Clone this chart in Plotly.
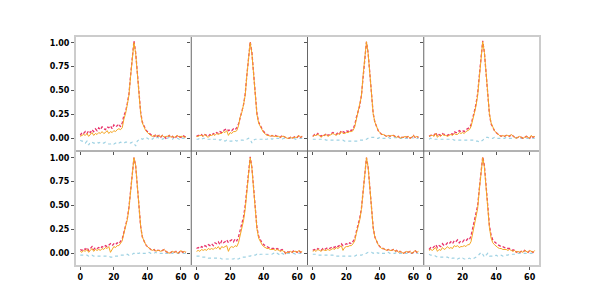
import plotly.graph_objects as go
from plotly.subplots import make_subplots

x_vals = list(range(64))

red_1 = [0.03,0.06,0.05,0.07,0.05,0.08,0.06,0.09,0.07,0.10,
         0.08,0.11,0.09,0.12,0.10,0.09,0.12,0.11,0.13,0.10,
         0.14,0.12,0.13,0.15,0.12,0.16,
         0.24,0.28,0.36,0.46,0.66,0.86,1.02,0.90,0.69,0.46,0.27,0.17,0.12,0.09,0.07,0.05,0.04,
         0.03,0.02,0.04,0.02,0.03,0.01,0.03,0.02,0.00,0.02,0.03,0.01,0.02,0.00,0.01,0.03,0.02,0.01,0.03,0.02,0.01]
orange_1 = [0.02,0.03,0.04,0.03,0.05,0.02,0.04,0.06,0.03,0.05,
            0.04,0.06,0.05,0.07,0.05,0.06,0.08,0.05,0.07,0.06,
            0.08,0.07,0.09,0.10,0.09,0.11,
            0.20,0.26,0.35,0.45,0.65,0.85,1.00,0.89,0.68,0.45,0.26,0.16,0.11,0.08,0.06,0.04,0.03,
            0.02,0.03,0.02,0.03,0.02,0.02,0.03,0.01,0.02,0.02,0.03,0.01,0.02,0.01,0.02,0.03,0.01,0.02,0.02,0.01,0.02]
blue_1 = [-0.02,-0.03,-0.03,-0.05,-0.03,-0.07,-0.04,-0.04,-0.05,-0.05,
          -0.04,-0.05,-0.04,-0.05,-0.05,-0.04,-0.05,-0.06,-0.06,-0.05,
          -0.06,-0.05,-0.04,-0.05,-0.04,-0.05,
          -0.05,-0.04,-0.04,-0.04,-0.05,-0.04,-0.05,-0.08,-0.03,-0.01,0.00,-0.01,0.00,0.01,0.00,-0.01,0.00,
          -0.01,0.01,0.00,0.01,0.00,0.00,-0.01,0.00,0.01,0.00,0.01,0.00,-0.01,0.01,0.00,0.00,-0.01,0.01,0.00,0.00,0.01]

red_2 = [0.02,0.03,0.03,0.04,0.02,0.04,0.03,0.02,0.04,0.03,
         0.05,0.04,0.06,0.05,0.07,0.06,0.08,0.09,0.10,0.08,
         0.09,0.08,0.10,0.09,0.11,0.15,
         0.23,0.28,0.35,0.46,0.66,0.86,1.01,0.90,0.68,0.45,0.26,0.17,0.13,0.10,0.07,0.05,0.04,
         0.03,0.02,0.03,0.02,0.03,0.02,0.02,0.01,0.03,0.02,0.01,0.00,0.00,0.01,0.00,0.01,0.02,0.01,0.03,0.01,0.02]
orange_2 = [0.02,0.02,0.03,0.03,0.02,0.04,0.02,0.01,0.03,0.03,
            0.04,0.03,0.05,0.04,0.05,0.05,0.07,0.06,0.08,0.03,
            0.06,0.05,0.07,0.07,0.08,0.13,
            0.22,0.27,0.35,0.45,0.66,0.85,1.00,0.89,0.67,0.44,0.25,0.16,0.12,0.09,0.06,0.04,0.03,
            0.03,0.02,0.03,0.02,0.02,0.02,0.02,0.01,0.02,0.02,0.01,0.00,0.00,0.01,0.00,0.01,0.01,0.01,0.03,0.01,0.02]
blue_2 = [-0.01,-0.01,0.00,-0.01,0.00,0.00,-0.01,-0.01,-0.01,0.00,
          -0.01,-0.01,-0.01,-0.01,-0.02,-0.01,-0.02,-0.03,-0.02,-0.03,
          -0.03,-0.03,-0.02,-0.02,-0.03,-0.02,
          -0.02,-0.02,-0.02,-0.01,-0.01,0.00,-0.01,-0.05,-0.02,-0.01,-0.01,-0.01,-0.01,-0.01,0.00,-0.01,-0.01,
          0.00,0.00,-0.01,0.00,0.00,0.00,0.00,0.00,-0.01,0.00,0.00,0.00,0.00,0.00,0.00,0.00,-0.01,0.00,0.00,0.00,0.00]

red_3 = [0.02,0.04,0.03,0.05,0.03,0.02,0.04,0.03,0.05,0.03,
         0.04,0.05,0.06,0.05,0.04,0.06,0.05,0.08,0.07,0.06,
         0.08,0.07,0.09,0.08,0.10,0.14,
         0.22,0.27,0.34,0.45,0.66,0.86,1.01,0.89,0.68,0.45,0.26,0.17,0.12,0.08,0.06,0.04,0.04,
         0.03,0.02,0.03,0.02,0.03,0.03,0.02,0.01,0.02,0.00,0.01,0.01,0.02,0.01,0.02,0.00,0.01,0.03,0.01,0.02,0.01]
orange_3 = [0.02,0.03,0.03,0.04,0.03,0.01,0.03,0.03,0.04,0.02,
            0.03,0.04,0.05,0.04,0.03,0.05,0.04,0.07,0.05,0.05,
            0.06,0.06,0.07,0.07,0.08,0.12,
            0.20,0.25,0.33,0.44,0.66,0.86,1.01,0.89,0.68,0.45,0.26,0.17,0.12,0.08,0.06,0.04,0.04,
            0.03,0.02,0.03,0.02,0.03,0.03,0.02,0.01,0.02,0.00,0.01,0.01,0.02,0.01,0.02,0.00,0.01,0.03,0.01,0.02,0.01]
blue_3 = [-0.01,-0.01,-0.01,-0.01,-0.01,-0.01,-0.01,-0.01,-0.02,-0.02,
          -0.02,-0.02,-0.02,-0.02,-0.02,-0.02,-0.02,-0.02,-0.02,-0.03,
          -0.03,-0.03,-0.03,-0.03,-0.03,-0.03,
          -0.03,-0.03,-0.02,-0.02,-0.02,-0.02,-0.01,0.00,0.01,0.01,0.01,0.01,0.00,0.00,0.01,0.00,0.00,
          0.00,0.00,0.01,0.00,0.00,0.00,0.01,0.00,0.00,0.00,0.00,0.01,0.00,0.00,0.00,0.00,0.01,0.00,0.00,0.00,0.00]

red_4 = [0.02,0.03,0.04,0.03,0.06,0.02,0.04,0.03,0.05,0.04,
         0.04,0.03,0.04,0.05,0.04,0.07,0.06,0.06,0.08,0.07,
         0.08,0.07,0.09,0.10,0.11,0.14,
         0.23,0.28,0.36,0.47,0.66,0.86,1.02,0.90,0.68,0.44,0.25,0.15,0.11,0.08,0.06,0.04,0.03,
         0.02,0.03,0.02,0.03,0.03,0.02,0.04,0.02,0.01,0.00,0.01,0.02,0.01,0.00,0.01,0.02,0.01,0.00,0.03,0.01,0.02]
orange_4 = [0.02,0.03,0.03,0.02,0.05,0.01,0.03,0.02,0.04,0.03,
            0.03,0.02,0.03,0.04,0.03,0.05,0.04,0.04,0.06,0.05,
            0.06,0.05,0.07,0.08,0.09,0.12,
            0.21,0.26,0.34,0.45,0.64,0.85,1.01,0.90,0.68,0.45,0.26,0.16,0.11,0.08,0.06,0.04,0.03,
            0.02,0.03,0.02,0.03,0.03,0.02,0.04,0.02,0.01,0.00,0.01,0.02,0.01,0.00,0.01,0.02,0.01,0.00,0.03,0.01,0.02]
blue_4 = [-0.01,0.00,-0.01,-0.01,-0.01,-0.01,-0.01,-0.01,-0.01,-0.01,
          -0.01,-0.01,-0.01,-0.01,-0.01,-0.02,-0.02,-0.02,-0.02,-0.02,
          -0.02,-0.02,-0.02,-0.02,-0.02,-0.02,
          -0.02,-0.02,-0.03,-0.03,-0.04,-0.03,-0.02,0.00,0.01,0.01,0.00,0.00,0.00,0.01,0.00,0.00,0.00,
          0.00,0.00,0.00,0.01,0.00,0.00,0.00,0.00,0.00,0.01,0.00,0.00,0.00,0.00,0.00,0.00,0.00,0.00,0.00,0.00,0.00]

red_5 = [0.04,0.03,0.05,0.04,0.06,0.03,0.05,0.07,0.04,0.06,
         0.05,0.06,0.05,0.07,0.06,0.08,0.07,0.09,0.10,0.08,
         0.10,0.09,0.11,0.10,0.12,0.15,
         0.22,0.28,0.36,0.48,0.68,0.88,1.00,0.92,0.70,0.47,0.28,0.17,0.12,0.09,0.07,0.05,0.04,
         0.03,0.04,0.02,0.03,0.03,0.02,0.03,0.04,0.02,0.01,0.00,0.01,0.02,0.01,0.02,0.00,0.01,0.03,0.01,0.02,0.01]
orange_5 = [0.02,0.01,0.03,0.02,0.04,0.01,0.03,0.05,0.02,0.04,
            0.03,0.04,0.03,0.05,0.04,0.06,0.05,0.07,0.01,0.04,
            0.07,0.06,0.08,0.08,0.10,0.13,
            0.21,0.27,0.35,0.47,0.67,0.88,1.00,0.92,0.70,0.47,0.28,0.17,0.12,0.09,0.07,0.05,0.04,
            0.03,0.04,0.02,0.03,0.03,0.02,0.03,0.04,0.02,0.01,0.00,0.01,0.02,0.01,0.02,0.00,0.01,0.03,0.01,0.02,0.01]
blue_5 = [-0.02,-0.02,-0.02,-0.02,-0.02,-0.03,-0.02,-0.02,-0.03,-0.03,
          -0.03,-0.03,-0.03,-0.03,-0.03,-0.03,-0.03,-0.03,-0.04,-0.04,
          -0.04,-0.03,-0.03,-0.03,-0.02,-0.02,
          -0.02,-0.02,-0.01,-0.02,-0.01,-0.01,0.00,-0.01,0.00,0.00,0.01,0.00,0.00,0.00,0.00,0.01,0.00,
          0.00,0.00,0.01,0.00,0.00,0.00,0.00,0.01,0.00,0.00,0.00,0.00,0.00,0.01,0.00,0.00,0.00,0.00,0.00,0.00,0.00]

red_6 = [0.05,0.06,0.05,0.07,0.06,0.08,0.07,0.09,0.08,0.10,
         0.08,0.11,0.10,0.12,0.09,0.13,0.11,0.12,0.14,0.11,
         0.13,0.14,0.12,0.15,0.13,0.17,
         0.24,0.30,0.38,0.50,0.70,0.88,1.01,0.90,0.70,0.47,0.27,0.18,0.14,0.11,0.09,0.08,0.07,
         0.06,0.06,0.05,0.05,0.04,0.05,0.04,0.03,0.04,0.03,0.00,0.02,0.01,0.02,0.01,0.03,0.02,0.01,0.03,0.01,0.02]
orange_6 = [0.02,0.03,0.02,0.04,0.03,0.04,0.03,0.05,0.04,0.05,
            0.04,0.06,0.05,0.07,0.04,0.07,0.06,0.07,0.08,0.02,
            0.06,0.07,0.06,0.08,0.07,0.11,
            0.19,0.26,0.34,0.46,0.67,0.86,1.00,0.89,0.69,0.46,0.26,0.16,0.12,0.09,0.07,0.06,0.05,
            0.05,0.04,0.04,0.04,0.03,0.04,0.03,0.02,0.03,0.02,0.00,0.01,0.01,0.02,0.01,0.02,0.02,0.01,0.03,0.01,0.02]
blue_6 = [-0.03,-0.03,-0.03,-0.04,-0.04,-0.04,-0.04,-0.05,-0.05,-0.05,
          -0.05,-0.05,-0.05,-0.05,-0.05,-0.06,-0.06,-0.06,-0.06,-0.06,
          -0.06,-0.06,-0.06,-0.05,-0.06,-0.06,
          -0.05,-0.04,-0.04,-0.04,-0.03,-0.03,-0.03,-0.02,-0.02,-0.02,-0.01,-0.02,-0.01,-0.01,-0.01,-0.01,-0.01,
          -0.01,-0.01,-0.01,0.00,-0.01,0.00,-0.01,-0.02,0.00,-0.01,0.00,0.00,0.00,0.00,0.00,0.00,-0.01,0.00,0.00,0.00,0.00]

red_7 = [0.03,0.04,0.03,0.05,0.04,0.03,0.05,0.04,0.05,0.06,
         0.05,0.06,0.07,0.06,0.08,0.07,0.09,0.10,0.08,0.09,
         0.10,0.09,0.11,0.10,0.12,0.15,
         0.23,0.29,0.37,0.47,0.66,0.87,1.00,0.90,0.70,0.47,0.27,0.17,0.12,0.09,0.07,0.05,0.05,
         0.04,0.03,0.04,0.03,0.03,0.04,0.02,0.03,0.01,0.02,0.01,0.00,0.01,0.02,0.01,0.02,0.00,0.01,0.03,0.01,0.02]
orange_7 = [0.02,0.03,0.02,0.04,0.03,0.02,0.04,0.03,0.03,0.04,
            0.03,0.04,0.05,0.04,0.06,0.05,0.07,0.08,0.03,0.06,
            0.07,0.07,0.08,0.08,0.10,0.13,
            0.21,0.27,0.35,0.46,0.66,0.87,1.00,0.90,0.70,0.47,0.27,0.17,0.12,0.09,0.07,0.05,0.05,
            0.04,0.03,0.04,0.03,0.03,0.04,0.02,0.03,0.01,0.02,0.01,0.00,0.01,0.02,0.01,0.02,0.00,0.01,0.03,0.01,0.02]
blue_7 = [-0.01,-0.01,-0.01,-0.02,-0.02,-0.02,-0.02,-0.02,-0.02,-0.02,
          -0.02,-0.02,-0.02,-0.03,-0.03,-0.03,-0.03,-0.03,-0.03,-0.03,
          -0.03,-0.03,-0.03,-0.03,-0.03,-0.03,
          -0.02,-0.02,-0.02,-0.02,-0.01,-0.01,0.00,0.01,0.01,0.01,0.00,0.01,0.01,0.00,0.01,0.00,0.00,
          0.00,0.00,0.01,0.00,0.00,0.00,0.00,0.01,0.00,0.00,0.00,0.00,0.00,0.00,0.01,0.00,0.00,0.00,0.00,0.00,0.00]

red_8 = [0.04,0.06,0.05,0.07,0.09,0.06,0.08,0.07,0.10,0.08,
         0.09,0.11,0.10,0.12,0.10,0.13,0.12,0.14,0.11,0.13,
         0.12,0.14,0.13,0.15,0.14,0.18,
         0.26,0.32,0.40,0.50,0.68,0.88,1.01,0.92,0.72,0.48,0.29,0.19,0.14,0.12,0.10,0.09,0.08,
         0.07,0.07,0.06,0.06,0.05,0.05,0.04,0.03,0.04,0.01,0.02,0.01,0.02,0.01,0.03,0.02,0.01,0.03,0.02,0.01,0.03]
orange_8 = [0.03,0.04,0.03,0.05,0.06,0.02,0.04,0.03,0.06,0.04,
            0.05,0.07,0.05,0.06,0.05,0.08,0.07,0.08,0.06,0.07,
            0.07,0.08,0.07,0.09,0.09,0.12,
            0.21,0.27,0.36,0.47,0.67,0.86,1.00,0.90,0.70,0.46,0.27,0.16,0.11,0.09,0.07,0.06,0.05,
            0.05,0.04,0.04,0.04,0.03,0.04,0.03,0.02,0.03,0.01,0.02,0.01,0.02,0.01,0.03,0.02,0.01,0.03,0.02,0.01,0.03]
blue_8 = [-0.01,-0.02,-0.02,-0.02,-0.03,-0.04,-0.04,-0.04,-0.04,-0.04,
          -0.04,-0.04,-0.05,-0.06,-0.05,-0.05,-0.05,-0.06,-0.05,-0.06,
          -0.05,-0.06,-0.06,-0.06,-0.05,-0.06,
          -0.06,-0.05,-0.04,-0.03,-0.01,0.01,-0.01,-0.04,-0.02,0.00,-0.03,-0.03,-0.03,-0.03,-0.02,-0.03,-0.03,
          -0.02,-0.03,-0.02,-0.02,-0.02,-0.01,-0.01,-0.01,-0.01,0.00,0.00,0.00,0.00,0.00,0.00,0.00,0.00,0.00,0.00,0.00,0.00]

red_series = [red_1, red_2, red_3, red_4, red_5, red_6, red_7, red_8]
orange_series = [orange_1, orange_2, orange_3, orange_4, orange_5, orange_6, orange_7, orange_8]
blue_series = [blue_1, blue_2, blue_3, blue_4, blue_5, blue_6, blue_7, blue_8]

x_ticks = [0, 20, 40, 60]
y_ticks = [0.0, 0.25, 0.5, 0.75, 1.0]
y_tick_labels = ["0.00", "0.25", "0.50", "0.75", "1.00"]

RED = "#e8336b"
ORANGE = "#f5a623"
BLUE = "#9fd2e3"

fig = make_subplots(rows=2, cols=4, shared_xaxes=True, shared_yaxes=True,
                    horizontal_spacing=0, vertical_spacing=0)

for i in range(8):
    r = i // 4 + 1
    c = i % 4 + 1
    fig.add_trace(go.Scatter(x=x_vals, y=blue_series[i], mode="lines",
                             line=dict(color=BLUE, width=1.2, dash="dot"),
                             showlegend=False), row=r, col=c)
    fig.add_trace(go.Scatter(x=x_vals, y=red_series[i], mode="lines",
                             line=dict(color=RED, width=1.3, dash="3px,2px"),
                             showlegend=False), row=r, col=c)
    fig.add_trace(go.Scatter(x=x_vals, y=orange_series[i], mode="lines",
                             line=dict(color=ORANGE, width=1),
                             showlegend=False), row=r, col=c)

tick_font = dict(family="DejaVu Sans", size=8, color="#000000", weight="bold")

for r in (1, 2):
    for c in range(1, 5):
        fig.update_xaxes(range=[-3.15, 66.15], tickvals=x_ticks, ticks="outside",
                         ticklen=3, tickcolor="#555555", tickwidth=1,
                         showgrid=False, zeroline=False, showline=False,
                         showticklabels=(r == 2), tickfont=tick_font, row=r, col=c)
        fig.update_yaxes(range=[-0.133, 1.07], tickvals=y_ticks, ticktext=y_tick_labels,
                         ticks="outside", ticklen=3, tickcolor="#555555", tickwidth=1,
                         showgrid=False, zeroline=False, showline=False,
                         showticklabels=(c == 1), tickfont=tick_font, row=r, col=c)

shapes = []
for xv in (0.25, 0.5, 0.75):
    shapes.append(dict(type="line", xref="paper", yref="paper", x0=xv, x1=xv, y0=0, y1=1,
                       line=dict(color="#666666", width=1), layer="above"))
shapes.append(dict(type="line", xref="paper", yref="paper", x0=0, x1=1, y0=0.5, y1=0.5,
                   line=dict(color="#666666", width=1), layer="above"))
shapes.append(dict(type="rect", xref="paper", yref="paper", x0=0, x1=1, y0=0, y1=1,
                   line=dict(color="#cccccc", width=2), layer="above"))

# page body adds an 8px offset; margins compensate so the plot area sits at x 75-540, y 36-266
fig.update_layout(width=600, height=300, margin=dict(l=67, r=68, t=28, b=42),
                  paper_bgcolor="white", plot_bgcolor="white", shapes=shapes,
                  showlegend=False)

fig.write_html("out.html")
